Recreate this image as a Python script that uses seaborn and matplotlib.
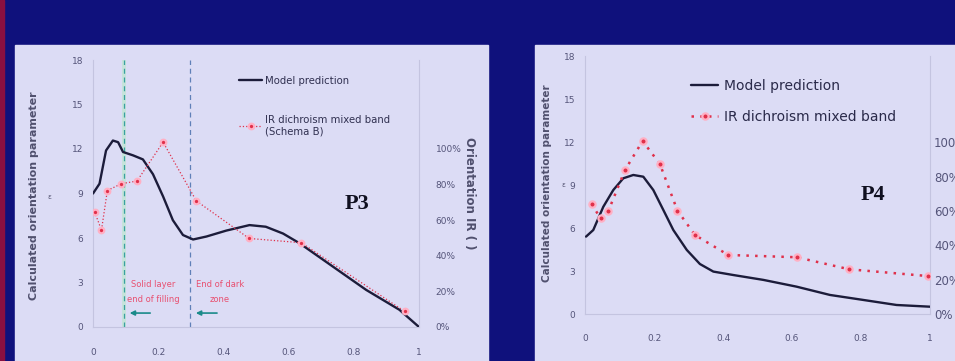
import numpy as np
import pandas as pd
import seaborn as sns
import matplotlib.pyplot as plt
from matplotlib.patches import Rectangle
from matplotlib.ticker import PercentFormatter

# data

p3_model_x = [0, 0.02, 0.04, 0.061, 0.077, 0.092, 0.123, 0.153, 0.184, 0.215, 0.245,
              0.276, 0.307, 0.348, 0.409, 0.48, 0.53, 0.583, 0.634, 0.736, 0.838, 0.94, 1.0]
p3_model_y = [9.0, 9.66, 11.9, 12.57, 12.46, 11.8, 11.57, 11.3, 10.3, 8.8, 7.2,
              6.2, 5.9, 6.1, 6.5, 6.87, 6.76, 6.3, 5.64, 4.07, 2.5, 1.16, 0]

p3_ir_x = [0.005, 0.026, 0.044, 0.087, 0.135, 0.215, 0.317, 0.479, 0.639, 0.956]
p3_ir_y = [7.76, 6.53, 9.2, 9.66, 9.84, 12.46, 8.5, 5.97, 5.68, 1.05]

p4_model_x = [0.003, 0.024, 0.053, 0.082, 0.111, 0.14, 0.169, 0.198, 0.227, 0.256,
              0.295, 0.333, 0.372, 0.43, 0.517, 0.613, 0.71, 0.807, 0.903, 1.0]
p4_model_y = [5.42, 5.88, 7.5, 8.67, 9.49, 9.72, 9.6, 8.67, 7.28, 5.88,
              4.49, 3.51, 2.98, 2.74, 2.4, 1.93, 1.35, 1.0, 0.65, 0.53]

p4_ir_x = [0.019, 0.045, 0.068, 0.116, 0.167, 0.217, 0.268, 0.319, 0.415, 0.614, 0.766, 0.993]
p4_ir_y = [7.7, 6.7, 7.23, 10.07, 12.09, 10.49, 7.23, 5.53, 4.14, 3.98, 3.14, 2.67]

x_ticks = [0, 0.2, 0.4, 0.6, 0.8, 1]
x_tick_labels = ["0", "0.2", "0.4", "0.6", "0.8", "1"]
y_ticks = [0, 3, 6, 9, 12, 15, 18]
pct_ticks = [0, 0.2, 0.4, 0.6, 0.8, 1.0]

solid_layer_x = 0.094
dark_zone_x = 0.297

# style

sns.set_theme(style="white")
plt.rcParams["font.family"] = ["DejaVu Sans"]

navy = "#0f117c"
panel = "#dcdcf5"
tick_col = "#55557a"
label_col = "#50506e"
model_col = "#1c1c3a"
ir_col = "#e0304a"
halo_col = "#ffb0c4"

fig = plt.figure(figsize=(9.55, 3.61), dpi=100, facecolor=navy)

# slide panels (behind the axes)
fig.patches.append(Rectangle((0, 0), 4 / 955, 1, transform=fig.transFigure,
                             color="#8a1040", zorder=-1))
fig.patches.append(Rectangle((15 / 955, 0), 473 / 955, 316 / 361,
                             transform=fig.transFigure, color=panel, zorder=-1))
fig.patches.append(Rectangle((535 / 955, 0), 420 / 955, 316 / 361,
                             transform=fig.transFigure, color=panel, zorder=-1))


def style_axes(ax, pad_x, pad_y):
    ax.set_facecolor("none")
    ax.set_xlim(0, 1)
    ax.set_ylim(0, 18)
    ax.set_xticks(x_ticks)
    ax.set_xticklabels(x_tick_labels)
    ax.set_yticks(y_ticks)
    ax.tick_params(axis="x", length=0, pad=pad_x, labelsize=6.5, colors=tick_col)
    ax.tick_params(axis="y", length=0, pad=pad_y, labelsize=6.5, colors=tick_col)
    ax.spines["top"].set_visible(False)
    for side in ["left", "bottom", "right"]:
        ax.spines[side].set_color("#c4c4e0")
        ax.spines[side].set_linewidth(0.8)
    ax.set_xlabel("")


def draw_series(ax, mx, my, ix, iy, ms, lw_ir, ls_ir, model_label, ir_label):
    sns.lineplot(x=mx, y=my, ax=ax, color=model_col, lw=1.7,
                 label=model_label, zorder=3)
    sns.lineplot(x=ix, y=iy, ax=ax, color=ir_col, lw=lw_ir, ls=ls_ir,
                 marker="o", markersize=ms, markerfacecolor=ir_col,
                 markeredgecolor=halo_col, markeredgewidth=1.6,
                 label=ir_label, zorder=4)


# P3 panel

ax1 = fig.add_axes([93 / 955, 34 / 361, 326 / 955, 267 / 361])
ax1.axvspan(solid_layer_x - 0.006, solid_layer_x + 0.006, color="#b8e8c8",
            alpha=0.6, lw=0, zorder=1)
ax1.axvline(solid_layer_x, color="#3aa0a0", ls=(0, (4, 3)), lw=0.9, zorder=2)
ax1.axvline(dark_zone_x, color="#6080b8", ls=(0, (4, 3)), lw=0.9, zorder=2)

draw_series(ax1, p3_model_x, p3_model_y, p3_ir_x, p3_ir_y, 4, 0.9, ":",
            "Model prediction", "IR dichroism mixed band\n(Schema B)")
style_axes(ax1, 15, 7)

ax1.legend(loc="upper left", bbox_to_anchor=(0.42, 0.975), frameon=False,
           fontsize=7.3, labelspacing=2.9, handlelength=2.3, handletextpad=0.3,
           labelcolor="#303050")

ax1.set_ylabel("Calculated orientation parameter", fontsize=8,
               fontweight="bold", color=label_col)
ax1.yaxis.set_label_coords(-0.167, 0.49)
ax1.text(-0.135, 0.487, "ε", transform=ax1.transAxes, fontsize=5,
         color=label_col, ha="center", va="center")

ax1.text(0.81, 8.3, "P3", fontsize=16, fontweight="bold",
         family="Liberation Serif", color="#101020", ha="center", va="center")

ann_col = "#e85070"
ax1.text(0.186, 2.84, "Solid layer", fontsize=6, color=ann_col, ha="center", va="center")
ax1.text(0.186, 1.83, "end of filling", fontsize=6, color=ann_col, ha="center", va="center")
ax1.text(0.389, 2.84, "End of dark", fontsize=6, color=ann_col, ha="center", va="center")
ax1.text(0.389, 1.83, "zone", fontsize=6, color=ann_col, ha="center", va="center")
for x0, x1 in [(0.184, 0.104), (0.389, 0.307)]:
    ax1.annotate("", xy=(x1, 0.94), xytext=(x0, 0.94),
                 arrowprops=dict(arrowstyle="-|>", color="#1a8a8a", lw=1.2,
                                 mutation_scale=7))

ax1r = ax1.twinx()
ax1r.set_ylim(0, 1.5)
ax1r.set_yticks(pct_ticks)
ax1r.yaxis.set_major_formatter(PercentFormatter(1.0, decimals=0))
ax1r.tick_params(axis="y", length=0, pad=12, labelsize=6.5, colors=tick_col)
for side in ["top", "left", "bottom", "right"]:
    ax1r.spines[side].set_visible(False)
ax1r.set_ylabel("Orientation IR ( )", fontsize=8.5, fontweight="bold",
                color=label_col, rotation=270)
ax1r.yaxis.set_label_coords(1.175, 0.5)

# P4 panel

ax2 = fig.add_axes([585 / 955, 46.7 / 361, 345 / 955, 258 / 361])
draw_series(ax2, p4_model_x, p4_model_y, p4_ir_x, p4_ir_y, 4.5, 1.8, (0, (1, 2.5)),
            "Model prediction", "IR dichroism mixed band")
style_axes(ax2, 14, 7)

ax2.legend(loc="upper left", bbox_to_anchor=(0.27, 0.96), frameon=False,
           fontsize=10, labelspacing=1.2, handlelength=2.0, handletextpad=0.4,
           labelcolor="#2a2a4a")

ax2.set_ylabel("Calculated orientation parameter", fontsize=7.5,
               fontweight="bold", color=label_col)
ax2.yaxis.set_label_coords(-0.096, 0.51)
ax2.text(-0.062, 0.5, "ε", transform=ax2.transAxes, fontsize=5,
         color=label_col, ha="center", va="center")

ax2.text(0.834, 8.33, "P4", fontsize=16, fontweight="bold",
         family="Liberation Serif", color="#101020", ha="center", va="center")

# right-hand scale runs past the slide edge, as on the original
ax2r = ax2.twinx()
ax2r.set_ylim(0, 1.5)
ax2r.set_yticks(pct_ticks)
ax2r.yaxis.set_major_formatter(PercentFormatter(1.0, decimals=0))
ax2r.tick_params(axis="y", length=0, pad=3, labelsize=8.5, colors=tick_col)
for side in ["top", "left", "bottom", "right"]:
    ax2r.spines[side].set_visible(False)

fig.savefig("out.png", dpi=100, facecolor=navy)
